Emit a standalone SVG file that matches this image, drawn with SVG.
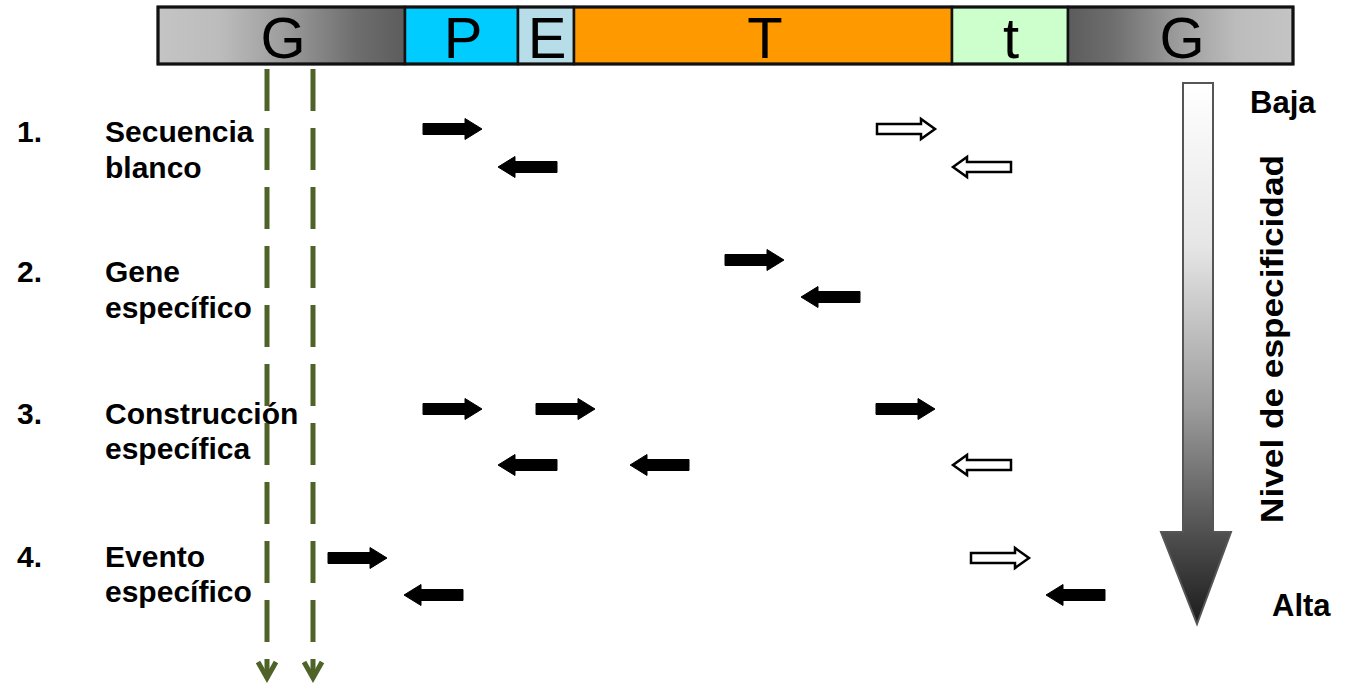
<svg xmlns="http://www.w3.org/2000/svg" xmlns:xlink="http://www.w3.org/1999/xlink" width="1345" height="686" viewBox="0 0 1345 686">
  <style>
    .seg { stroke: #111; stroke-width: 2.5; }
    .bar-letter { font-family: "Liberation Sans", Arial, sans-serif; font-size: 58px; fill: #000; text-anchor: middle; }
    .lbl { font-family: "Liberation Sans", Arial, sans-serif; font-size: 30px; font-weight: bold; fill: #000; }
    .side { font-family: "Liberation Sans", Arial, sans-serif; font-size: 31px; font-weight: bold; fill: #000; }
    .solid { fill: #000; stroke: #000; stroke-width: 1; }
    .hollow { fill: #fff; stroke: #000; stroke-width: 2.5; stroke-linejoin: miter; }
    .guide { fill: none; stroke: #4f6228; stroke-width: 5; stroke-dasharray: 42 17; }
  </style>
  <defs>
    <linearGradient id="gLeft" x1="0" y1="0" x2="1" y2="0">
      <stop offset="0" stop-color="#c4c4c4"/>
      <stop offset="0.25" stop-color="#bcbcbc"/>
      <stop offset="0.5" stop-color="#9e9e9e"/>
      <stop offset="0.8" stop-color="#6e6e6e"/>
      <stop offset="1" stop-color="#5c5c5c"/>
    </linearGradient>
    <linearGradient id="gRight" x1="1" y1="0" x2="0" y2="0">
      <stop offset="0" stop-color="#c4c4c4"/>
      <stop offset="0.25" stop-color="#bcbcbc"/>
      <stop offset="0.5" stop-color="#9e9e9e"/>
      <stop offset="0.8" stop-color="#6e6e6e"/>
      <stop offset="1" stop-color="#5c5c5c"/>
    </linearGradient>
    <linearGradient id="gLevel" x1="0" y1="0" x2="0" y2="1">
      <stop offset="0" stop-color="#ffffff"/>
      <stop offset="0.3" stop-color="#e6e6e6"/>
      <stop offset="0.6" stop-color="#9c9c9c"/>
      <stop offset="0.85" stop-color="#4a4a4a"/>
      <stop offset="1" stop-color="#1c1c1c"/>
    </linearGradient>
    <!-- primer arrow pointing right, origin at tail centre -->
    <path id="pr" d="M0,-5.5 H42 V-10.5 L59,0 L42,10.5 V5.5 H0 Z"/>
    <!-- primer arrow pointing left, origin at tip -->
    <path id="pl" d="M0,0 L17,-10.5 V-5.5 H59 V5.5 H17 V10.5 Z"/>
    <path id="hr" d="M0,-5 H44 V-10 L58,0 L44,10 V5 H0 Z"/>
    <path id="hl" d="M0,0 L14,-10 V-5 H58 V5 H14 V10 Z"/>
    <marker id="chev" markerUnits="userSpaceOnUse" orient="auto" markerWidth="40" markerHeight="40" refX="0" refY="0" overflow="visible">
      <path d="M-16,-9 L0,0 L-16,9" fill="none" stroke="#4f6228" stroke-width="5" stroke-linejoin="miter"/>
    </marker>
  </defs>

  <rect width="1345" height="686" fill="#fff"/>

  <!-- construct map -->
  <g id="construct">
    <g id="seg-G1">
      <rect class="seg" x="158" y="7" width="247" height="57" fill="url(#gLeft)"/>
      <text class="bar-letter" x="283" y="58">G</text>
    </g>
    <g id="seg-P">
      <rect class="seg" x="405" y="7" width="113" height="57" fill="#00ccff"/>
      <text class="bar-letter" x="463" y="58">P</text>
    </g>
    <g id="seg-E">
      <rect class="seg" x="518" y="7" width="56" height="57" fill="#b7dee8"/>
      <text class="bar-letter" x="547" y="58">E</text>
    </g>
    <g id="seg-T">
      <rect class="seg" x="574" y="7" width="378" height="57" fill="#ff9900"/>
      <text class="bar-letter" x="765" y="58">T</text>
    </g>
    <g id="seg-t">
      <rect class="seg" x="952" y="7" width="116" height="57" fill="#ccffcc"/>
      <text class="bar-letter" x="1011" y="58">t</text>
    </g>
    <g id="seg-G2">
      <rect class="seg" x="1068" y="7" width="225" height="57" fill="url(#gRight)"/>
      <text class="bar-letter" x="1182" y="58">G</text>
    </g>
    <rect x="158" y="7" width="1135" height="57" fill="none" stroke="#111" stroke-width="3"/>
  </g>

  <!-- genomic border guides -->
  <g id="connectors">
    <path class="guide" d="M267,69 V678" marker-end="url(#chev)"/>
    <path class="guide" d="M313,69 V678" marker-end="url(#chev)"/>
  </g>

  <!-- 1. target sequence -->
  <g id="row-1">
    <text class="lbl" x="17" y="142">1.</text>
    <text class="lbl" x="105" y="142">Secuencia</text>
    <text class="lbl" x="105" y="178">blanco</text>
    <use href="#pr" class="solid" x="423" y="129"/>
    <use href="#pl" class="solid" x="498" y="167"/>
    <use href="#hr" class="hollow" x="877" y="129"/>
    <use href="#hl" class="hollow" x="953" y="167"/>
  </g>

  <!-- 2. gene specific -->
  <g id="row-2">
    <text class="lbl" x="17" y="282">2.</text>
    <text class="lbl" x="105" y="282">Gene</text>
    <text class="lbl" x="105" y="318">específico</text>
    <use href="#pr" class="solid" x="725" y="260"/>
    <use href="#pl" class="solid" x="801" y="297"/>
  </g>

  <!-- 3. construct specific -->
  <g id="row-3">
    <text class="lbl" x="17" y="424">3.</text>
    <text class="lbl" x="105" y="424">Construcción</text>
    <text class="lbl" x="105" y="459">específica</text>
    <use href="#pr" class="solid" x="423" y="409"/>
    <use href="#pr" class="solid" x="536" y="409"/>
    <use href="#pr" class="solid" x="876" y="409"/>
    <use href="#pl" class="solid" x="498" y="465"/>
    <use href="#pl" class="solid" x="630" y="465"/>
    <use href="#hl" class="hollow" x="953" y="465"/>
  </g>

  <!-- 4. event specific -->
  <g id="row-4">
    <text class="lbl" x="17" y="567">4.</text>
    <text class="lbl" x="105" y="567">Evento</text>
    <text class="lbl" x="105" y="602">específico</text>
    <use href="#pr" class="solid" x="328" y="558"/>
    <use href="#pl" class="solid" x="404" y="595"/>
    <use href="#hr" class="hollow" x="971" y="558"/>
    <use href="#pl" class="solid" x="1046" y="595"/>
  </g>

  <!-- specificity scale -->
  <g id="specificity">
    <path d="M1183,83 H1213 V532 H1231 L1197,624 L1161,532 H1183 Z" fill="url(#gLevel)" stroke="#555" stroke-width="2"/>
    <text class="side" x="1250" y="113">Baja</text>
    <text class="side" x="1272" y="616">Alta</text>
    <text class="side" transform="translate(1283,339) rotate(-90)" text-anchor="middle" textLength="368" lengthAdjust="spacingAndGlyphs">Nivel de especificidad</text>
  </g>
</svg>
